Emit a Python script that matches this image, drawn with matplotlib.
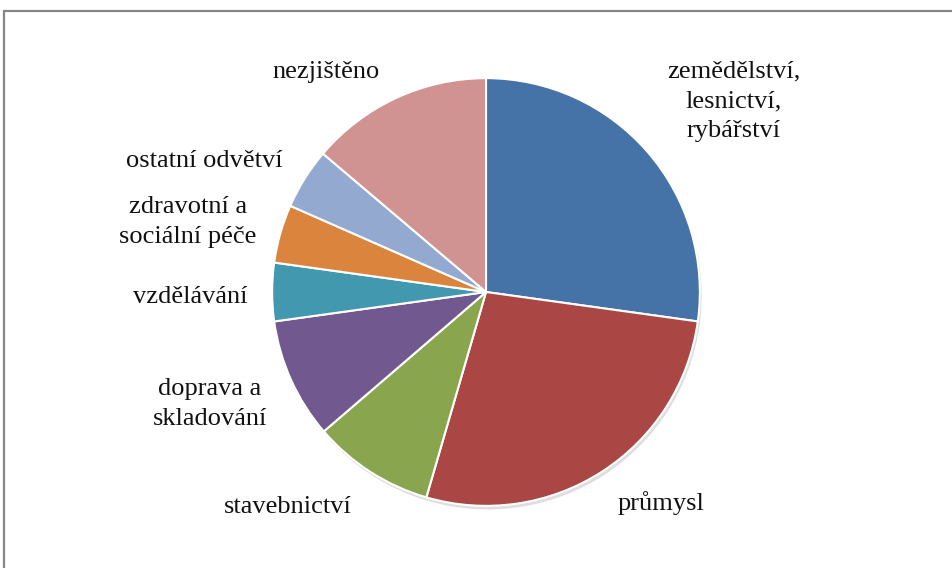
import matplotlib
matplotlib.use("Agg")
import matplotlib.pyplot as plt
from matplotlib.patches import Rectangle

categories = ["zemědělství,\nlesnictví,\nrybářství", "průmysl", "stavebnictví",
              "doprava a\nskladování", "vzdělávání", "zdravotní a\nsociální péče",
              "ostatní odvětví", "nezjištěno"]
values = [27.2, 27.3, 9.2, 9.1, 4.4, 4.4, 4.6, 13.8]
colors = ["#4572A7", "#AA4643", "#89A54E", "#71588F", "#4198AF", "#DB843D", "#93A9CF", "#D19392"]

W, H = 952, 568
fig = plt.figure(figsize=(W / 100, H / 100), dpi=100)
plt.rcParams['font.family'] = ['Liberation Serif', 'DejaVu Serif']

cx, cy, r = 486, 292, 216
ax = fig.add_axes([(cx - r) / W, (H - cy - r) / H, 2 * r / W, 2 * r / H])
ax.pie(values, colors=colors, startangle=90, counterclock=False, radius=1,
       wedgeprops=dict(edgecolor="white", linewidth=1.5),
       shadow=dict(ox=0.006, oy=-0.012, shade=0.0, facecolor="#c8c8c8",
                   edgecolor="none", alpha=0.6))
ax.set_xlim(-1.01, 1.01)
ax.set_ylim(-1.01, 1.01)
ax.set_aspect('equal')
ax.axis('off')

# label positions: (centre x, first-line baseline y) in pixels
label_pos = [(734, 77), (661, 510), (288, 513), (210, 395), (190, 303),
             (188, 213), (204, 167), (326, 78)]
line_step = 30
for lab, (px, py) in zip(categories, label_pos):
    for i, line in enumerate(lab.split("\n")):
        fig.text(px / W, 1 - (py + i * line_step) / H, line, ha='center',
                 va='baseline', fontsize=19, color='#111111')

fig.patches.append(Rectangle((3.5 / W, -0.1), 2.0, (1 - 11.5 / H) + 0.1,
                             transform=fig.transFigure, fill=False,
                             edgecolor="#868686", linewidth=1.6))
fig.savefig("out.png", dpi=100)
